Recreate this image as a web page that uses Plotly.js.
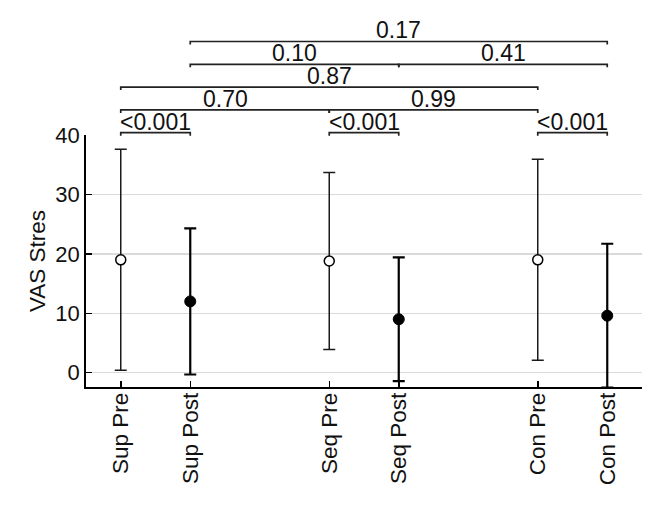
<!DOCTYPE html>
<html>
<head>
<meta charset="utf-8">
<script src="https://cdn.plot.ly/plotly-3.0.1.min.js"></script>
<style>
  html, body { margin: 0; padding: 0; background: #fff; }
  #chart { width: 660px; height: 506px; }
</style>
</head>
<body>
<div id="chart"></div>
<script>
// group labels and where they sit on the x axis (gaps between Sup / Seq / Con)
const groups = ["Sup Pre", "Sup Post", "Seq Pre", "Seq Post", "Con Pre", "Con Post"];
const xPos   = [0, 1, 3, 4, 6, 7];

// mean +/- SD of VAS stress
const means = [19.0, 12.0, 18.8, 9.0, 19.0, 9.6];
const sds   = [18.6, 12.3, 14.9, 10.4, 16.9, 12.1];

// pairwise comparisons (indices into groups), p values and stacking tier
const compFrom = [0, 2, 4, 0, 2, 0, 1, 3, 1];
const compTo   = [1, 3, 5, 2, 4, 4, 3, 5, 5];
const compP    = ["<0.001", "<0.001", "<0.001", "0.70", "0.99", "0.87", "0.10", "0.41", "0.17"];
const compTier = [0, 0, 0, 1, 1, 2, 3, 3, 4];

const FONT = "Liberation Sans, Arial, sans-serif";
const M = { l: 86, r: 18, t: 135, b: 119 };
const plotH = 506 - M.t - M.b;

// pixel offsets above the plot top -> paper coords
const px2paper = p => 1 + p / plotH;
const tierPx = t => 2.3 + t * 22.8;

function pick(arr, post) {
    return arr.filter((_, i) => groups[i].endsWith("Post") === post);
}

const preTrace = {
    x: pick(xPos, false),
    y: pick(means, false),
    type: "scatter",
    mode: "markers",
    marker: { size: 10, color: "#fff", line: { color: "#000", width: 1.5 } },
    error_y: { type: "data", array: pick(sds, false), visible: true,
               color: "#1a1a1a", thickness: 1.5, width: 6 },
    showlegend: false
};

const postTrace = {
    x: pick(xPos, true),
    y: pick(means, true),
    type: "scatter",
    mode: "markers",
    marker: { size: 11, color: "#000", line: { color: "#000", width: 1 } },
    error_y: { type: "data", array: pick(sds, true), visible: true,
               color: "#000", thickness: 2.2, width: 6 },
    showlegend: false
};

/* -----------------------------
   Significance brackets
------------------------------*/
const shapes = [];
const annotations = [];
compFrom.forEach((f, i) => {
    const x0 = xPos[f], x1 = xPos[compTo[i]];
    const yl = px2paper(tierPx(compTier[i]));
    const yt = px2paper(tierPx(compTier[i]) - 3);
    shapes.push({
        type: "path",
        xref: "x", yref: "paper",
        path: `M ${x0},${yt} L ${x0},${yl} L ${x1},${yl} L ${x1},${yt}`,
        line: { color: "#222", width: 1.7 }
    });
    annotations.push({
        xref: "x", yref: "paper",
        x: (x0 + x1) / 2,
        y: px2paper(tierPx(compTier[i]) + 11),
        yanchor: "middle",
        text: compP[i],
        showarrow: false,
        font: { family: FONT, size: 23, color: "#111" }
    });
});

const layout = {
    width: 660,
    height: 506,
    margin: M,
    paper_bgcolor: "#fff",
    plot_bgcolor: "#fff",
    font: { family: FONT, size: 22, color: "#111" },
    xaxis: {
        range: [-0.5, 7.5],
        tickvals: xPos,
        ticktext: groups,
        tickangle: -90,
        ticks: "inside",
        ticklen: 6,
        tickwidth: 1.5,
        tickcolor: "#000",
        ticklabelstandoff: -5,
        showgrid: false,
        zeroline: false,
        showline: true,
        linecolor: "#000",
        linewidth: 1.8,
        tickfont: { family: FONT, size: 22.5, color: "#111" }
    },
    yaxis: {
        range: [-2.4, 40],
        tickvals: [0, 10, 20, 30, 40],
        ticks: "inside",
        ticklen: 6,
        tickwidth: 1.5,
        tickcolor: "#000",
        showgrid: true,
        gridcolor: "#dadada",
        gridwidth: 1.5,
        zeroline: false,
        showline: true,
        linecolor: "#000",
        linewidth: 1.8,
        tickfont: { family: FONT, size: 22, color: "#111" },
        title: { text: "VAS Stres", font: { family: FONT, size: 22.5, color: "#111" }, standoff: 3 }
    },
    shapes: shapes,
    annotations: annotations
};

Plotly.newPlot("chart", [preTrace, postTrace], layout, { staticPlot: true });
</script>
</body>
</html>
